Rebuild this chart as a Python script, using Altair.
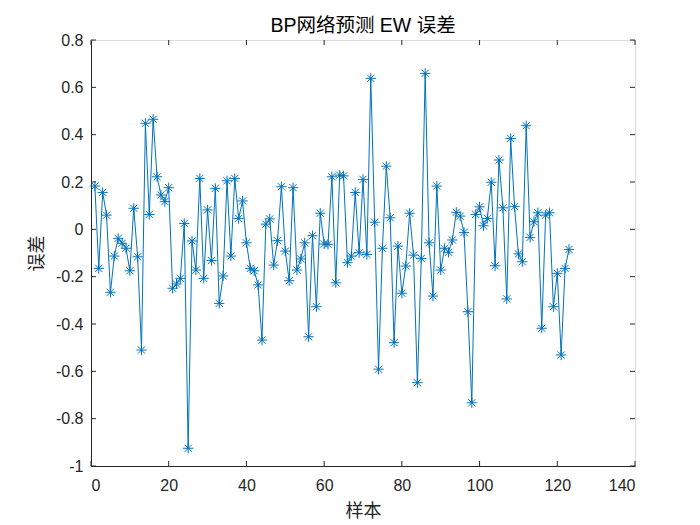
import pandas as pd
import altair as alt

# Error of the BP network for each test sample
sample = list(range(1, 124))
err = [0.183, -0.165, 0.156, 0.060, -0.266, -0.113, -0.038, -0.059, -0.080, -0.175,
       0.089, -0.116, -0.510, 0.448, 0.063, 0.465, 0.222, 0.145, 0.117, 0.176,
       -0.249, -0.231, -0.207, 0.025, -0.925, -0.049, -0.172, 0.215, -0.207, 0.082,
       -0.132, 0.173, -0.313, -0.197, 0.205, -0.113, 0.215, 0.046, 0.120, -0.057,
       -0.165, -0.175, -0.235, -0.468, 0.022, 0.044, -0.151, -0.048, 0.180, -0.092,
       -0.217, 0.176, -0.172, -0.125, -0.057, -0.454, -0.027, -0.327, 0.068, -0.062,
       -0.063, 0.222, -0.226, 0.229, 0.226, -0.141, -0.113, 0.156, -0.099, 0.211,
       -0.106, 0.638, 0.030, -0.591, -0.080, 0.267, 0.049, -0.479, -0.071, -0.270,
       -0.155, 0.068, -0.109, -0.648, -0.123, 0.659, -0.057, -0.282, 0.183, -0.172,
       -0.080, -0.097, -0.045, 0.072, 0.056, -0.013, -0.348, -0.733, 0.063, 0.095,
       0.015, 0.046, 0.199, -0.154, 0.293, 0.091, -0.294, 0.384, 0.096, -0.104,
       -0.137, 0.438, -0.034, 0.032, 0.070, -0.418, 0.060, 0.070, -0.327, -0.186,
       -0.531, -0.165, -0.085]
xticks = [0, 20, 40, 60, 80, 100, 120, 140]
yticks = [-1, -0.8, -0.6, -0.4, -0.2, 0, 0.2, 0.4, 0.6, 0.8]
title  = ['BP网络预测 EW 误差']

W, H   = 544, 426
FONT   = 'Liberation Sans, Arial, Noto Sans CJK SC'
BLUE   = '#0072BD'
GREY   = '#262626'
STAR   = 'M-1,0L1,0M0,-1L0,1M-0.7,-0.7L0.7,0.7M-0.7,0.7L0.7,-0.7'

df  = pd.DataFrame({'样本': sample, '误差': err})
dfx = pd.DataFrame({'t': xticks})
dfy = pd.DataFrame({'t': yticks})
dft = pd.DataFrame({'title': title})

xs = alt.Scale(domain=[0, 140], nice=False, zero=False)
ys = alt.Scale(domain=[-1, 0.8], nice=False, zero=False)

xax = alt.Axis(values=xticks, grid=False, ticks=False, labelPadding=11, labelFontSize=16, labelFont=FONT, labelColor=GREY,
               labelExpr="'' + datum.value",
               domainColor=GREY, title='样本', titleFont=FONT, titleFontSize=18, titleFontWeight='normal', titleColor=GREY,
               titleY=45, titleBaseline='middle')
yax = alt.Axis(values=yticks, grid=False, ticks=False, labelPadding=8, labelFontSize=16, labelFont=FONT, labelColor=GREY,
               labelExpr="'' + datum.value",
               domainColor=GREY, title='误差', titleFont=FONT, titleFontSize=18, titleFontWeight='normal', titleColor=GREY,
               titleX=-54, titleY=H / 2, titleBaseline='middle', titleAngle=270, titleAlign='center')

line = alt.Chart(df).mark_line(color=BLUE, strokeWidth=1).encode(x=alt.X('样本:Q', scale=xs, axis=xax), y=alt.Y('误差:Q', scale=ys, axis=yax))
pts  = alt.Chart(df).mark_point(shape=STAR, filled=False, color=BLUE, strokeWidth=1, size=105, opacity=1).encode(x=alt.X('样本:Q', scale=xs), y=alt.Y('误差:Q', scale=ys))

# inward ticks on all four sides, like a boxed MATLAB axes
tb = alt.Chart(dfx).mark_rule(color=GREY, strokeWidth=1).encode(x=alt.X('t:Q', scale=xs), y=alt.value(H), y2=alt.value(H - 5))
tt = alt.Chart(dfx).mark_rule(color=GREY, strokeWidth=1).encode(x=alt.X('t:Q', scale=xs), y=alt.value(0), y2=alt.value(5))
tl = alt.Chart(dfy).mark_rule(color=GREY, strokeWidth=1).encode(y=alt.Y('t:Q', scale=ys), x=alt.value(0), x2=alt.value(5))
tr = alt.Chart(dfy).mark_rule(color=GREY, strokeWidth=1).encode(y=alt.Y('t:Q', scale=ys), x=alt.value(W - 5), x2=alt.value(W))

# title drawn as text above the box
ttl = alt.Chart(dft).mark_text(font=FONT, fontSize=19.5, color='black', align='center', baseline='alphabetic').encode(
    text='title:N', x=alt.value(W / 2), y=alt.value(-8))

chart = alt.layer(line, pts, tb, tt, tl, tr, ttl).properties(
    width=W, height=H, autosize=alt.AutoSizeParams(type='none'),
    padding={'left': 83, 'top': 32, 'right': 57, 'bottom': 55},
).configure_view(stroke=GREY, strokeWidth=1).configure(background='white')

chart.save("out.html", embed_options={"renderer": "svg", "actions": False})
